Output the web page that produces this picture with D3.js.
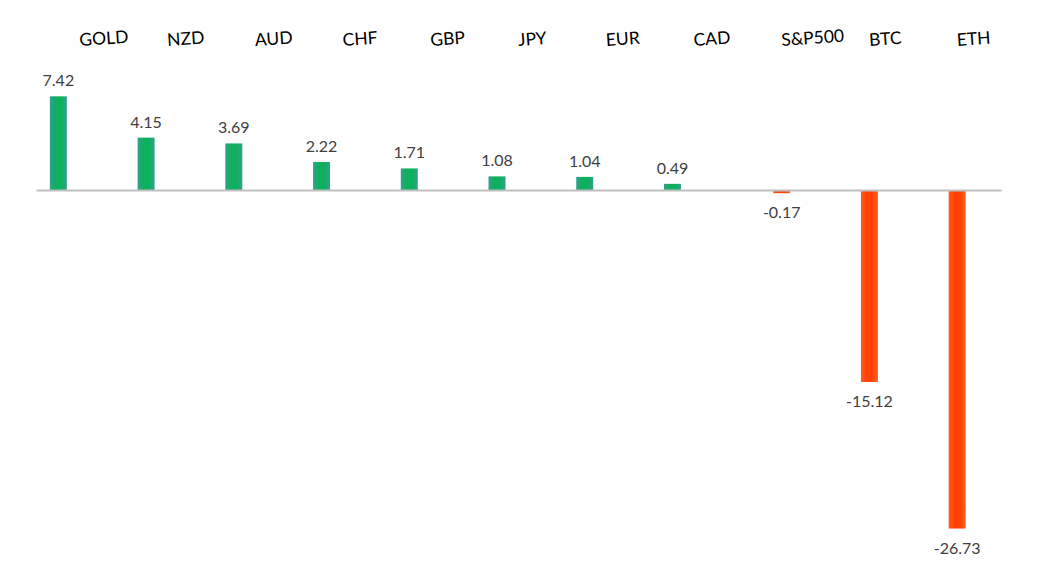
<!DOCTYPE html>
<html>
<head>
<meta charset="utf-8">
<script src="https://cdn.jsdelivr.net/npm/d3@7"></script>
<style>
  html, body { margin: 0; padding: 0; background: #fff; }
  svg { display: block; }
</style>
</head>
<body>
<svg id="chart"></svg>
<script>
// data
const categories = ["GOLD", "NZD", "AUD", "CHF", "GBP", "JPY", "EUR", "CAD", "S&P500", "BTC", "ETH"];
const changes = [7.42, 4.15, 3.69, 2.22, 1.71, 1.08, 1.04, 0.49, -0.17, -15.12, -26.73];
const seriesSlots = ["gain", "loss", "spare"];

const data = categories.map((c, i) => ({ cat: c, value: changes[i] }));

const W = 1038, H = 577;
const svg = d3.select('#chart').attr('width', W).attr('height', H);

// gradients: bright core, teal/light edges
const defs = svg.append('defs');
function barGradient(id, core, edge) {
  const g = defs.append('linearGradient').attr('id', id)
    .attr('x1', '0%').attr('x2', '100%').attr('y1', '0%').attr('y2', '0%');
  g.append('stop').attr('offset', '0%').attr('stop-color', edge);
  g.append('stop').attr('offset', '35%').attr('stop-color', core);
  g.append('stop').attr('offset', '65%').attr('stop-color', core);
  g.append('stop').attr('offset', '100%').attr('stop-color', edge);
}
barGradient('gGreen', '#0db05c', '#33a08e');
barGradient('gOrange', '#ff4000', '#ff5c26');

const x = d3.scaleBand()
  .domain(categories)
  .range([36, 1001]);

// Excel-like cluster slots: gains sit one slot left of the loss slot
const slot = d3.scaleBand()
  .domain(seriesSlots)
  .range([x.bandwidth() / 2 - 32.25, x.bandwidth() / 2 + 32.25])
  .paddingInner(0.21)
  .paddingOuter(0.105);

const y = d3.scaleLinear()
  .domain([-28, 8])
  .range([543.6, 89]);

const barX = d => x(d.cat) + slot(d.value >= 0 ? 'gain' : 'loss');

// bars
svg.append('g')
  .selectAll('rect')
  .data(data)
  .enter().append('rect')
  .attr('x', barX)
  .attr('y', d => d.value >= 0 ? y(d.value) : y(0) + 1)
  .attr('width', slot.bandwidth())
  .attr('height', d => Math.abs(y(d.value) - y(0)))
  .attr('fill', d => d.value >= 0 ? 'url(#gGreen)' : 'url(#gOrange)');

// zero line
svg.append('g')
  .attr('transform', `translate(0,${y(0)})`)
  .call(d3.axisBottom(x).tickSize(0).tickFormat(''))
  .call(g => g.select('.domain').attr('stroke', '#bfbfbf').attr('stroke-width', 2));

// category labels across the top, slightly tilted
svg.append('g')
  .selectAll('text')
  .data(categories)
  .enter().append('text')
  .attr('transform', d => `translate(${x(d) + x.bandwidth() / 2},46) rotate(-4)`)
  .attr('font-family', 'Lato, "Open Sans", sans-serif')
  .attr('font-size', 17.5)
  .attr('fill', '#000')
  .text(d => d);

// value labels
svg.append('g')
  .selectAll('text')
  .data(data)
  .enter().append('text')
  .attr('x', d => barX(d) + slot.bandwidth() / 2)
  .attr('y', d => d.value >= 0 ? y(d.value) - 10 : y(d.value) + 26)
  .attr('text-anchor', 'middle')
  .attr('font-family', 'Lato, "Open Sans", sans-serif')
  .attr('font-size', 16)
  .attr('fill', '#404040')
  .text(d => d.value.toFixed(2));
</script>
</body>
</html>
